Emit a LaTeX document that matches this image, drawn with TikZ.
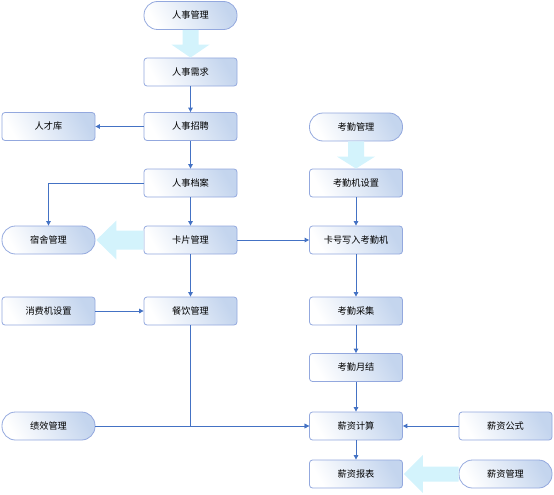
\documentclass[tikz,border=0pt]{standalone}
\usepackage{fontspec}
\newfontfamily\cjk{Noto Sans CJK SC}
\usetikzlibrary{arrows.meta,calc}
\definecolor{boxblue}{HTML}{C4D5EE}
\definecolor{boxborder}{HTML}{93A8DE}
\definecolor{lineblue}{HTML}{4472C4}
\definecolor{fatcyan}{HTML}{D3F3FC}
\tikzset{
  box/.style={draw=boxborder, line width=0.8pt, rounded corners=3pt, minimum width=93pt, minimum height=28pt,
    inner sep=0pt, top color=boxblue, bottom color=white, shading angle=-60, font=\cjk\fontsize{9.2}{10}\selectfont},
  pill/.style={box, rounded corners=13.5pt},
  conn/.style={draw=lineblue, line width=0.9pt, -{Triangle[length=4.5pt,width=4.5pt]}},
  fat/.style={fill=fatcyan, draw=none}
}
\begin{document}
\begin{tikzpicture}[x=1pt,y=-1pt]
\useasboundingbox (0,0) rectangle (554,495);
% column 2
\node[pill] (rsgl) at (190.5,15.5) {人事管理};
\node[box]  (xq)   at (190.5,72) {人事需求};
\node[box]  (zp)   at (190.5,126.5) {人事招聘};
\node[box]  (da)   at (190.5,183) {人事档案};
\node[box]  (kp)   at (190.5,240) {卡片管理};
\node[box]  (cy)   at (190.5,311) {餐饮管理};
% column 1
\node[box]  (rck)  at (48.5,126.5) {人才库};
\node[pill] (ss)   at (48.5,240) {宿舍管理};
\node[box]  (xf)   at (48.5,311) {消费机设置};
\node[pill] (jx)   at (48.5,426) {绩效管理};
% column 3
\node[pill] (kqgl) at (356,127) {考勤管理};
\node[box]  (kjs)  at (356,183) {考勤机设置};
\node[box]  (kh)   at (356,240) {卡号写入考勤机};
\node[box]  (kc)   at (356,311) {考勤采集};
\node[box]  (ky)   at (356,367.5) {考勤月结};
\node[box]  (xj)   at (356,426) {薪资计算};
\node[box]  (bb)   at (356,474) {薪资报表};
% column 4
\node[box]  (gs)   at (505.5,426) {薪资公式};
\node[pill] (xzgl) at (505.5,474) {薪资管理};

% fat arrows
\fill[fat] ($(rsgl.south)+(-8,0)$) -- ($(rsgl.south)+(8,0)$) -- ($(xq.north)+(8,-13)$) -- ($(xq.north)+(19,-13)$)
  -- (xq.north) -- ($(xq.north)+(-19,-13)$) -- ($(xq.north)+(-8,-13)$) -- cycle;
\fill[fat] ($(kqgl.south)+(-8,0)$) -- ($(kqgl.south)+(8,0)$) -- ($(kjs.north)+(8,-12)$) -- ($(kjs.north)+(19,-12)$)
  -- (kjs.north) -- ($(kjs.north)+(-19,-12)$) -- ($(kjs.north)+(-8,-12)$) -- cycle;
\fill[fat] ($(kp.west)+(0,-9.5)$) -- ($(kp.west)+(0,9.5)$) -- ($(ss.east)+(21,9.5)$) -- ($(ss.east)+(21,19.5)$)
  -- ($(ss.east)+(1,0)$) -- ($(ss.east)+(21,-19.5)$) -- ($(ss.east)+(21,-9.5)$) -- cycle;
\fill[fat] ($(xzgl.west)+(0,-7.5)$) -- ($(xzgl.west)+(0,7.5)$) -- ($(bb.east)+(20,7.5)$) -- ($(bb.east)+(20,19)$)
  -- ($(bb.east)+(1,0)$) -- ($(bb.east)+(20,-19)$) -- ($(bb.east)+(20,-7.5)$) -- cycle;

% thin connectors
\draw[conn] (xq) -- (zp);
\draw[conn] (zp) -- (rck);
\draw[conn] (zp) -- (da);
\draw[conn] (da) -- (kp);
\draw[conn] (da.west) -| (ss.north);
\draw[conn] (kp) -- (kh);
\draw[conn] (kp) -- (cy);
\draw[conn] (xf) -- (cy);
\draw[conn] (cy.south) |- (xj.west);
\draw[conn] (jx) -- (xj);
\draw[conn] (kjs) -- (kh);
\draw[conn] (kh) -- (kc);
\draw[conn] (kc) -- (ky);
\draw[conn] (ky) -- (xj);
\draw[conn] (gs) -- (xj);
\draw[conn] (xj) -- (bb);
\end{tikzpicture}
\end{document}
